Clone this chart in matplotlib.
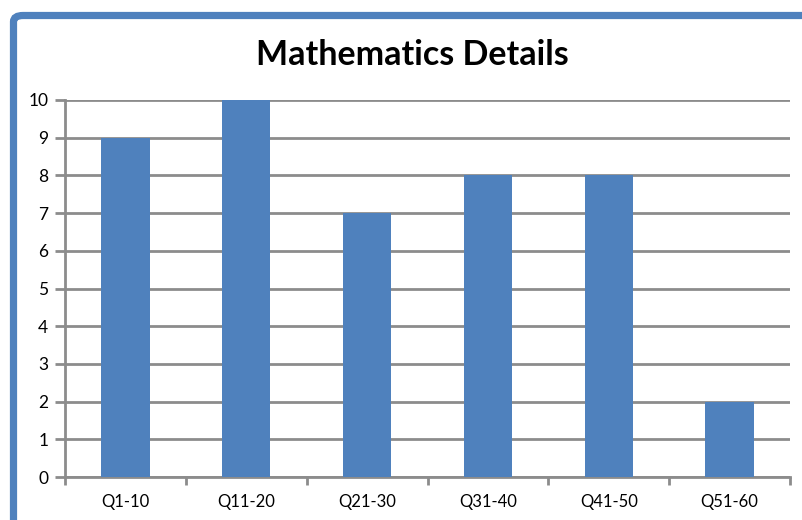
import matplotlib
matplotlib.use("Agg")
import matplotlib.pyplot as plt
from matplotlib.patches import FancyBboxPatch

categories = ["Q1-10", "Q11-20", "Q21-30", "Q31-40", "Q41-50", "Q51-60"]
values = [9, 10, 7, 8, 8, 2]
title = "Mathematics Details"

W, H = 802, 520
fig = plt.figure(figsize=(W / 100, H / 100), dpi=100)
plt.rcParams['font.family'] = ['Lato', 'DejaVu Sans']

# blue chart frame (top and left visible)
frame = FancyBboxPatch((13.5 / W, -0.2), 1.2, 1.2 - 15.5 / H + 0.0,
                       boxstyle="round,pad=0,rounding_size=0.012",
                       transform=fig.transFigure, fill=False,
                       edgecolor="#4F81BD", linewidth=5.2, zorder=0)
fig.patches.append(frame)

left, right, top, bottom = 65, 790, 100, 477
ax = fig.add_axes([left / W, 1 - bottom / H, (right - left) / W, (bottom - top) / H])

x = range(len(categories))
ax.bar(x, values, width=0.4, color="#4F81BD", zorder=3)
ax.set_xlim(-0.5, len(categories) - 0.5)
ax.set_ylim(0, 10)
ax.set_yticks(range(0, 11))
ax.yaxis.grid(True, color="#8C8C8C", linewidth=2, zorder=1)
ax.set_axisbelow(True)

ax.set_xticks([i - 0.5 for i in range(len(categories) + 1)], minor=False)
ax.set_xticklabels([])
ax.set_xticks(list(x), minor=True)
ax.set_xticklabels(categories, minor=True, fontsize=12)
ax.tick_params(axis='x', which='minor', length=0, pad=12)
ax.tick_params(axis='x', which='major', length=6, width=2, color="#8C8C8C", direction='out')
ax.tick_params(axis='y', length=7, width=2, color="#8C8C8C", direction='out', labelsize=12.5, pad=5)

for s in ["top", "right"]:
    ax.spines[s].set_visible(False)
for s in ["left", "bottom"]:
    ax.spines[s].set_color("#8C8C8C")
    ax.spines[s].set_linewidth(2)

fig.text(412 / W, 1 - 55 / H, title, ha="center", va="center",
         fontsize=24.5, fontweight="bold", color="black")

fig.savefig("out.png", dpi=100)
